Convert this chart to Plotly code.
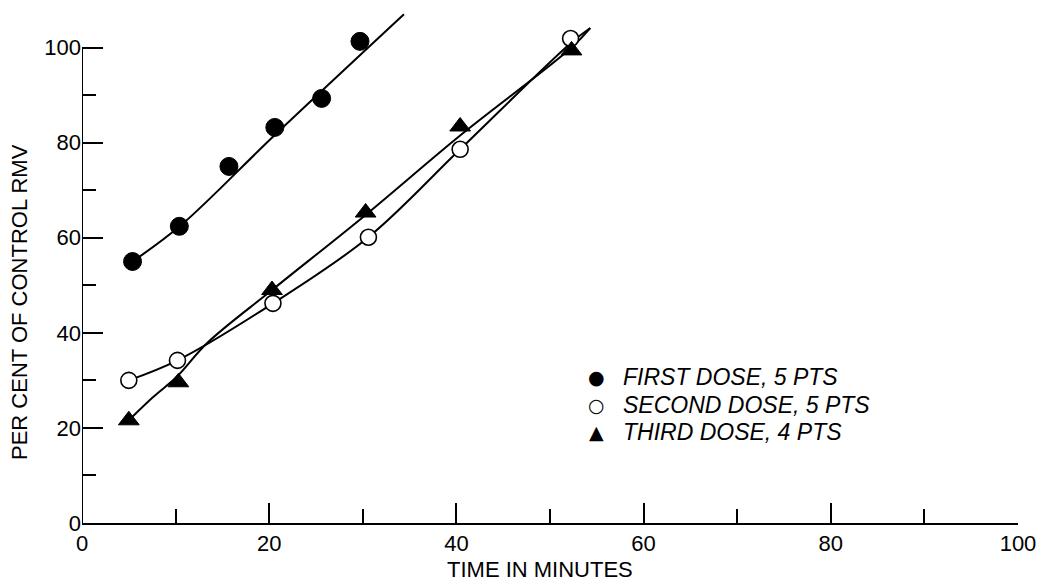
import plotly.graph_objects as go

# Observed points
first_x = [5.4, 10.4, 15.7, 20.6, 25.6, 29.7]
first_y = [55.0, 62.4, 75.0, 83.2, 89.3, 101.3]
second_x = [5.0, 10.2, 20.4, 30.6, 40.4, 52.2]
second_y = [30.0, 34.2, 46.2, 60.1, 78.6, 101.9]
third_x = [5.0, 10.3, 20.3, 30.3, 40.4, 52.3]
third_y = [21.6, 29.6, 49.0, 65.3, 83.4, 99.4]

# Hand-drawn smooth curves
first_fit_x = [5.4, 10.5, 20.6, 34.4]
first_fit_y = [55.0, 62.5, 81.6, 107.0]
second_fit_x = [5.0, 10.2, 20.4, 30.6, 40.4, 52.2, 54.3]
second_fit_y = [30.0, 34.2, 46.2, 60.1, 78.6, 100.9, 104.1]
third_fit_x = [5.0, 7.6, 10.1, 13.4, 20.3, 30.3, 40.4, 52.3, 54.3]
third_fit_y = [21.6, 26.5, 30.7, 37.9, 49.0, 64.8, 81.5, 100.0, 104.1]

names = ["FIRST DOSE, 5 PTS", "SECOND DOSE, 5 PTS", "THIRD DOSE, 4 PTS"]
legend_symbols = ["\u25CF", "\u25CB", "\u25B2"]
x_ticks = [0, 20, 40, 60, 80, 100]
y_ticks = [0, 20, 40, 60, 80, 100]
minor_ticks = [10, 30, 50, 70, 90]

FONT = "Liberation Sans, Arial, sans-serif"

# pixel helpers for paper placement of text (plot area: x 82..1018, y 0..523)
def px_x(p):
    return (p - 82) / 936

def px_y(p):
    return (523 - p) / 523

fig = go.Figure()

for fx, fy in [(first_fit_x, first_fit_y), (second_fit_x, second_fit_y), (third_fit_x, third_fit_y)]:
    fig.add_trace(go.Scatter(x=fx, y=fy, mode="lines", line=dict(color="black", width=2, shape="spline", smoothing=1.0),
                             showlegend=False, hoverinfo="skip", cliponaxis=False))

fig.add_trace(go.Scatter(x=first_x, y=first_y, mode="markers", name=names[0], showlegend=False,
                         marker=dict(symbol="circle", size=18, color="black", line=dict(color="black", width=1))))
fig.add_trace(go.Scatter(x=second_x, y=second_y, mode="markers", name=names[1], showlegend=False,
                         marker=dict(symbol="circle", size=16, color="white", line=dict(color="black", width=1.6))))
fig.add_trace(go.Scatter(x=third_x, y=third_y, mode="markers", name=names[2], showlegend=False,
                         marker=dict(symbol="triangle-up", size=18, color="black", line=dict(color="black", width=1))))

# y axis line only up to 100
fig.add_shape(type="line", xref="x", yref="y", x0=0, x1=0, y0=0, y1=100, line=dict(color="black", width=2))

annotations = [
    dict(text="PER CENT OF CONTROL RMV", textangle=-90, xref="paper", yref="paper",
         x=px_x(19), y=px_y(302), xanchor="center", yanchor="middle", showarrow=False,
         font=dict(size=22)),
    dict(text="TIME IN MINUTES", xref="paper", yref="paper", x=px_x(540), y=px_y(584),
         xanchor="center", yanchor="bottom", showarrow=False, font=dict(size=22)),
]
row_y = [377, 405, 432]
for sym, name, ry in zip(legend_symbols, names, row_y):
    annotations.append(dict(text=sym, xref="paper", yref="paper", x=px_x(596), y=px_y(ry),
                            xanchor="center", yanchor="middle", showarrow=False,
                            font=dict(family="DejaVu Sans", size=19)))
    annotations.append(dict(text=name, xref="paper", yref="paper", x=px_x(621), y=px_y(ry),
                            xanchor="left", yanchor="middle", showarrow=False,
                            font=dict(size=23, style="italic")))

fig.update_layout(
    width=1042, height=584,
    margin=dict(l=82, r=24, t=0, b=61),
    paper_bgcolor="white", plot_bgcolor="white",
    font=dict(family=FONT, color="black", size=22),
    showlegend=False,
    xaxis=dict(range=[0, 100], tickvals=x_ticks, ticks="inside", ticklen=20, tickwidth=1.5, tickcolor="black",
               showline=True, linecolor="black", linewidth=2, showgrid=False, zeroline=False,
               tickfont=dict(size=22),
               minor=dict(tickvals=minor_ticks, ticks="inside", ticklen=14, tickwidth=1.5, tickcolor="black", showgrid=False)),
    yaxis=dict(range=[0, 110], tickvals=y_ticks, ticks="inside", ticklen=21, tickwidth=1.5, tickcolor="black",
               showline=False, showgrid=False, zeroline=False, tickfont=dict(size=22),
               minor=dict(tickvals=minor_ticks, ticks="inside", ticklen=14, tickwidth=1.5, tickcolor="black", showgrid=False)),
    annotations=annotations,
)

fig.write_html("out.html")
